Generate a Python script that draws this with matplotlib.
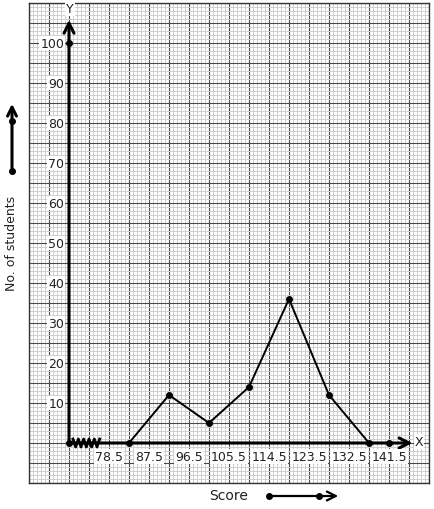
import matplotlib
matplotlib.use('Agg')
import matplotlib.pyplot as plt
import numpy as np

# class boundaries shown on the x axis, class marks and frequencies
boundaries = [78.5, 87.5, 96.5, 105.5, 114.5, 123.5, 132.5, 141.5]
marks = [83, 92, 101, 110, 119, 128, 137]
freq = [0, 12, 5, 14, 36, 12, 0]
y_ticks = [10, 20, 30, 40, 50, 60, 70, 80, 90, 100]

origin_x = 69.5          # broken axis: origin stands for 69.5
x_lo, x_hi = 60.5, 150.5
y_lo, y_hi = -10, 110

fig = plt.figure(figsize=(4.34, 5.10), dpi=100)
ax = fig.add_axes([29 / 434, 26 / 510, 400 / 434, 480 / 510])
ax.set_xlim(x_lo, x_hi)
ax.set_ylim(y_lo, y_hi)

# graph paper
ax.set_xticks(np.arange(x_lo, x_hi + 0.01, 4.5))
ax.set_xticks(np.arange(x_lo, x_hi + 0.01, 0.9), minor=True)
ax.set_yticks(np.arange(y_lo, y_hi + 0.01, 5))
ax.set_yticks(np.arange(y_lo, y_hi + 0.01, 1), minor=True)
ax.tick_params(which='both', length=0, labelbottom=False, labelleft=False)
ax.grid(which='minor', color='#cfcfcf', lw=0.7)
ax.grid(which='major', color='#4a4a4a', lw=0.8)
ax.set_axisbelow(True)
for s in ax.spines.values():
    s.set_color('#333333')
    s.set_linewidth(1.0)

# axes with arrows
ax.annotate('', xy=(origin_x, 105.8), xytext=(origin_x, 0),
            arrowprops=dict(arrowstyle='->', lw=2.2, color='black',
                            mutation_scale=18, shrinkA=0, shrinkB=0))
ax.annotate('', xy=(146.8, 0), xytext=(origin_x, 0),
            arrowprops=dict(arrowstyle='->', lw=2.2, color='black',
                            mutation_scale=18, shrinkA=0, shrinkB=0))
ax.plot([origin_x, origin_x, boundaries[-1]], [0, 100, 0], 'o',
        color='black', ms=4, zorder=5)

# axis break zigzag
zx = np.linspace(70.4, 76.4, 11)
zy = np.where(np.arange(11) % 2 == 0, 1.0, -1.0)
ax.plot(zx, zy, color='black', lw=2.0, zorder=5)

# frequency polygon
ax.plot(marks, freq, color='black', lw=1.4, marker='o', ms=4, zorder=6)

box = dict(facecolor='white', edgecolor='none', pad=0.6)
for b in boundaries:
    ax.text(b, -3.3, f'{b}', ha='center', va='center', fontsize=9,
            color='#222222', bbox=box, zorder=4)
for t in y_ticks:
    ax.text(68.4, t, f'{t}', ha='right', va='center', fontsize=9,
            color='#222222', bbox=box, zorder=4)
ax.text(origin_x + 0.2, 108.6, 'Y', ha='center', va='center', fontsize=9,
        color='#222222', bbox=box, zorder=4)
ax.text(148.3, 0.4, 'X', ha='center', va='center', fontsize=9,
        color='#222222', bbox=box, zorder=4)

# axis titles with arrows outside the paper
fig.text(12 / 434, 1 - 243 / 510, 'No. of students', rotation=90,
         ha='center', va='center', fontsize=9, color='#222222')
fig.text(229 / 434, 1 - 496 / 510, 'Score', ha='center', va='center',
         fontsize=10, color='#222222')

fig.add_artist(matplotlib.patches.FancyArrowPatch(
    (12 / 434, 1 - 172 / 510), (12 / 434, 1 - 102 / 510),
    transform=fig.transFigure, arrowstyle='->', lw=2.2,
    mutation_scale=16, color='black'))
fig.add_artist(plt.Line2D([12 / 434, 12 / 434], [1 - 172 / 510, 1 - 122 / 510],
                          transform=fig.transFigure, ls='none', marker='o',
                          ms=4, color='black'))
fig.add_artist(matplotlib.patches.FancyArrowPatch(
    (269 / 434, 1 - 497 / 510), (341 / 434, 1 - 497 / 510),
    transform=fig.transFigure, arrowstyle='->', lw=1.6,
    mutation_scale=16, color='black'))
fig.add_artist(plt.Line2D([269 / 434, 319 / 434], [1 - 497 / 510, 1 - 497 / 510],
                          transform=fig.transFigure, ls='none', marker='o',
                          ms=4, color='black'))

fig.savefig('out.png', dpi=100, facecolor='white')
